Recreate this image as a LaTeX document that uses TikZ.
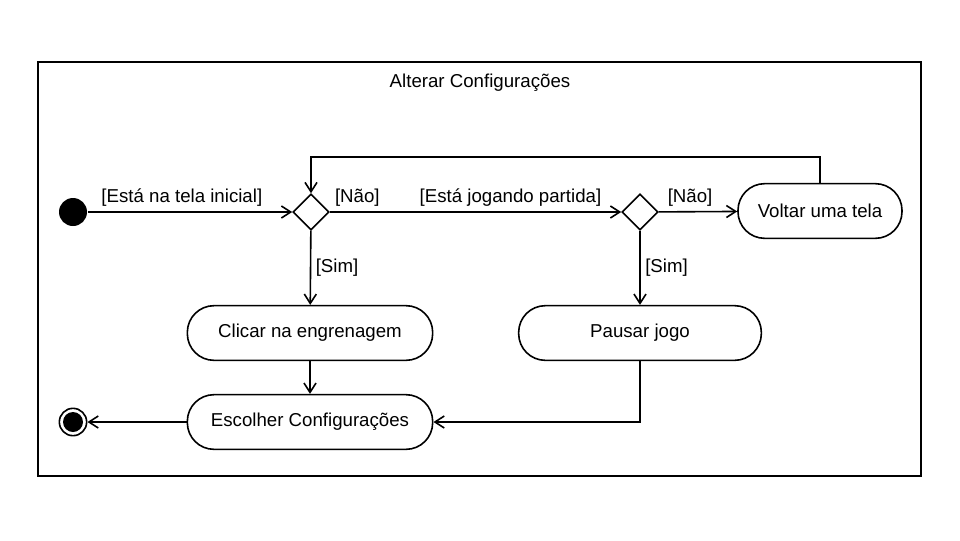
\documentclass[tikz,border=0pt]{standalone}
\usepackage{fontspec}
\setmainfont{Liberation Sans}
\usetikzlibrary{arrows.meta, positioning, shapes.geometric}

\begin{document}
\begin{tikzpicture}[x=0.75pt, y=-0.75pt, line width=1.2pt,
    every node/.style={font=\fontsize{14}{17}\selectfont},
    action/.style={draw, rectangle, rounded corners=20pt, minimum height=41pt, align=center},
    choice/.style={draw, diamond, minimum size=27pt, inner sep=0pt},
    flow/.style={-{Straight Barb[length=7pt, width=9pt]}}]
    \useasboundingbox (0,0) rectangle (960,540);
    % Frame
    \draw[line width=1pt] (38,62) rectangle (921,476);
    \node (title) at (480,83) {Alterar Configurações};

    % Nodes
    \node[circle, fill=black, minimum size=21pt, inner sep=0pt] (start) at (73,212) {};
    \node[choice] (menu) at (311,212) {};
    \node[choice] (match) at (640,212) {};
    \node[action, minimum width=123pt] (back) at (820,211) {Voltar uma tela};
    \node[action, minimum width=184pt] (gear) at (310,333) {Clicar na engrenagem};
    \node[action, minimum width=182pt] (pause) at (640,333) {Pausar jogo};
    \node[action, minimum width=184pt] (choose) at (310,422) {Escolher Configurações};
    \node[draw, circle, minimum size=20.5pt, inner sep=0pt,
        path picture={\fill (path picture bounding box.center) circle (7.5pt);}] (stop) at (73,422) {};

    % Arrows
    \draw[flow] (start) -- (menu) node[pos=0.46, above] {[Está na tela inicial]};
    \draw[flow] (menu) -- (match)
        node[pos=0, above right] {[Não]}
        node[pos=0.62, above] {[Está jogando partida]};
    \draw[flow] (match) -- (back) node[pos=0.4, above] {[Não]};
    \draw[flow] (menu) -- (gear) node[midway, right] {[Sim]};
    \draw[flow] (match) -- (pause) node[midway, right] {[Sim]};
    \draw[flow] (gear) -- (choose);
    \draw[flow] (pause.south) |- (choose.east);
    \draw[flow] (choose) -- (stop);
    \draw[flow] (back.north) -- ++(0,-26) -| (menu.north);
\end{tikzpicture}
\end{document}
